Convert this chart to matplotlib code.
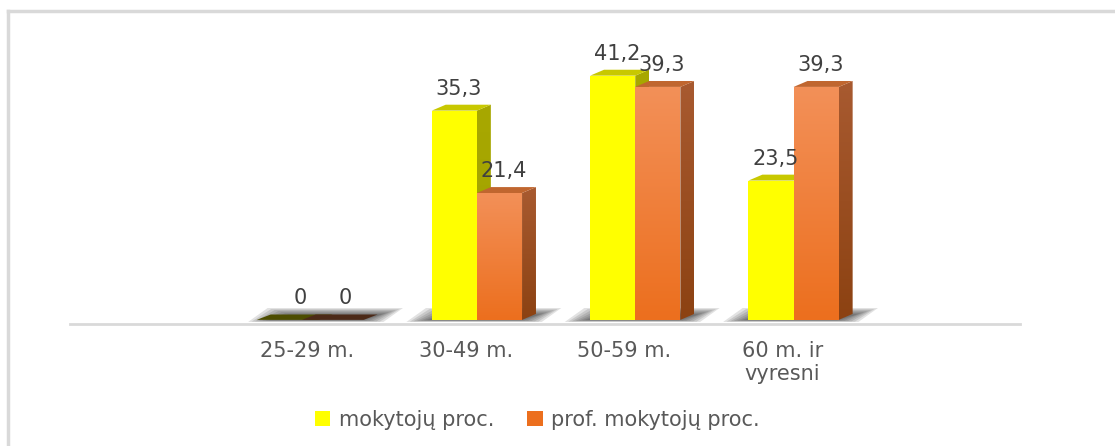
import matplotlib.pyplot as plt
import numpy as np
from matplotlib.patches import Polygon, Rectangle
from matplotlib.lines import Line2D
from matplotlib.colors import LinearSegmentedColormap

categories = ['25-29 m.', '30-49 m.', '50-59 m.', '60 m. ir\nvyresni']
mokytoju = [0, 35.3, 41.2, 23.5]
prof_mokytoju = [0, 21.4, 39.3, 39.3]
series_names = ['mokytojų proc.', 'prof. mokytojų proc.']

W, H = 1115, 446
fig = plt.figure(figsize=(W / 100, H / 100), dpi=100)
ax = fig.add_axes([70 / W, (H - 324) / H, 950 / W, (324 - 23.5) / H])
ax.set_xlim(-1.5, 4.5)
ax.set_ylim(-0.7, 50)

# bar geometry (data units) and fake 3d depth
w = 0.285
offsets = [-0.215, 0.07]
dx, dy = 0.088, 1.0

# colours: front, top, side, zero-bar top
styles = [
    dict(front=['#ffff00', '#ffff00'], top='#c8c800', side=['#a8a800', '#a0a000'], zero='#4d4d00'),
    dict(front=['#f39058', '#ec6f1e'], top='#c0662f', side=['#a85a30', '#8c4212'], zero='#4c2a18'),
]


def gradient_patch(ax, poly, c_top, c_bot, ymin, ymax, z):
    cmap = LinearSegmentedColormap.from_list('g', [c_bot, c_top])
    xs = [p[0] for p in poly]
    im = ax.imshow(np.linspace(0, 1, 100).reshape(-1, 1), cmap=cmap, origin='lower',
                   extent=[min(xs), max(xs), ymin, ymax], aspect='auto', zorder=z,
                   interpolation='bilinear')
    clip = Polygon(poly, closed=True, facecolor='none', edgecolor='none', transform=ax.transData)
    ax.add_patch(clip)
    im.set_clip_path(clip)


# soft floor shadows under each group
for i in range(len(categories)):
    left = i + offsets[0]
    right = i + offsets[1] + w + dx
    for k in range(7):
        pad = 0.16 - k * 0.022
        yb, yt = -0.35 + k * 0.05, 2.0 - k * 0.18
        ax.add_patch(Polygon([(left - pad, yb), (left - pad + dx * 1.4, yt),
                              (right + pad, yt), (right + pad - dx * 1.4, yb)],
                             closed=True, facecolor='#202020', edgecolor='none', alpha=0.13, zorder=1))

z = 2
for vals, off, st in zip([mokytoju, prof_mokytoju], offsets, styles):
    for i, v in enumerate(vals):
        x0 = i + off
        if v == 0:
            ax.add_patch(Polygon([(x0 - dx * 1.2, 0), (x0 - dx * 0.2, dy * 0.9), (x0 + w + dx, dy * 0.9), (x0 + w, 0)],
                                 closed=True, facecolor=st['zero'], edgecolor='none', zorder=z))
        else:
            # side face
            side = [(x0 + w, 0), (x0 + w + dx, dy), (x0 + w + dx, v + dy), (x0 + w, v)]
            gradient_patch(ax, side, st['side'][0], st['side'][1], 0, v + dy, z)
            # front face
            front = [(x0, 0), (x0, v), (x0 + w, v), (x0 + w, 0)]
            gradient_patch(ax, front, st['front'][0], st['front'][1], 0, v, z + 0.1)
            # top face
            ax.add_patch(Polygon([(x0, v), (x0 + dx, v + dy), (x0 + w + dx, v + dy), (x0 + w, v)],
                                 closed=True, facecolor=st['top'], edgecolor='none', zorder=z + 0.2))
        ax.text(x0 + w / 2 + dx * 0.3, v + dy + 1.0, f'{v:g}'.replace('.', ','),
                ha='center', va='bottom', fontsize=15, color='#404040', zorder=10)
    z += 1

ax.set_xticks(range(len(categories)), categories)
ax.set_yticks([])
ax.tick_params(axis='x', length=0, pad=12, labelsize=15, labelcolor='#595959')
for s in ['left', 'right', 'top']:
    ax.spines[s].set_visible(False)
ax.spines['bottom'].set_color('#d9d9d9')
ax.spines['bottom'].set_linewidth(2)
ax.spines['bottom'].set_zorder(0.5)

handles = [Rectangle((0, 0), 1, 1, facecolor=st['front'][1], edgecolor='none') for st in styles]
fig.legend(handles, series_names, loc='center', bbox_to_anchor=(0.482, 0.058), ncol=2,
           frameon=False, fontsize=15, labelcolor='#595959', handlelength=0.75, handleheight=0.75,
           handletextpad=0.4, columnspacing=1.6)

# outer chart border (only top/left visible in the crop)
fig.add_artist(Line2D([7.5 / W, 1.0], [(H - 10.5) / H] * 2, color='#d9d9d9', lw=2.5))
fig.add_artist(Line2D([7.5 / W] * 2, [0, (H - 10.5) / H], color='#d9d9d9', lw=2.5))

fig.savefig('out.png', dpi=100)
